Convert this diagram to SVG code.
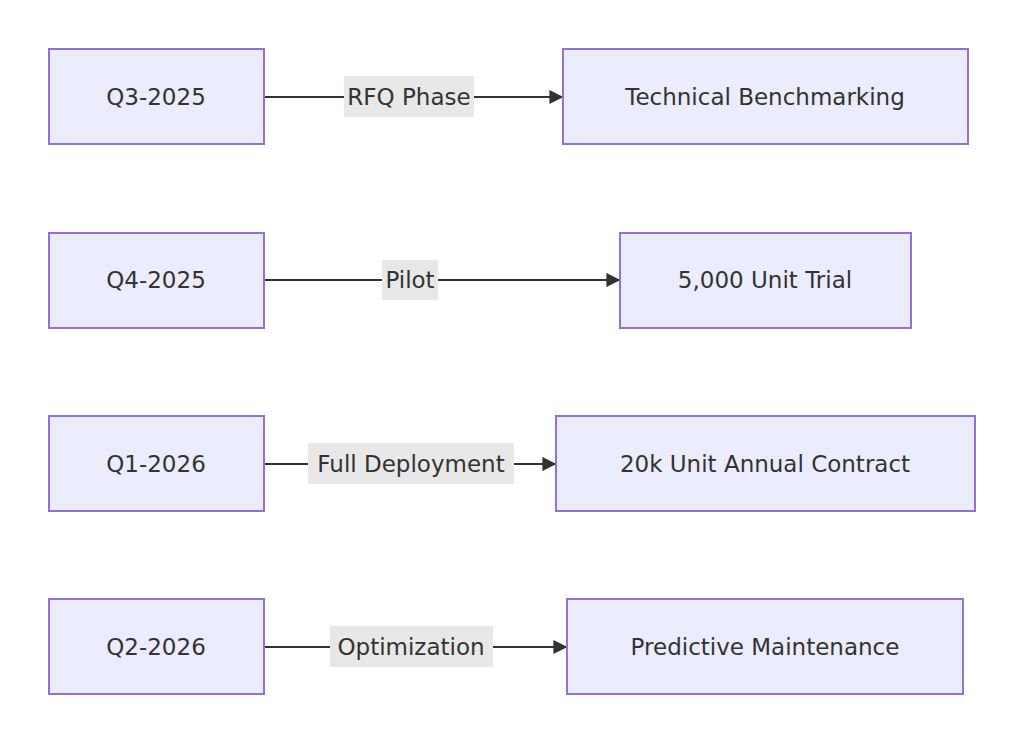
<svg xmlns="http://www.w3.org/2000/svg" width="1024" height="744" viewBox="0 0 1024 744">
<style>
.n{fill:#ECECFF;stroke:#9370DB;stroke-width:2}
.t{font-family:"DejaVu Sans",sans-serif;font-size:23px;fill:#333;text-anchor:middle;dominant-baseline:central}
.lb{fill:#E8E8E8}
.e{stroke:#333;stroke-width:2;fill:none}
</style>
<defs><marker id="a" viewBox="0 0 10 10" refX="9" refY="5" markerWidth="7" markerHeight="7" orient="auto"><path d="M0,0L10,5L0,10z" fill="#333"/></marker></defs>
<rect width="1024" height="744" fill="#fff"/>
<g id="edges">
<path class="e" d="M264,97H562" marker-end="url(#a)"/>
<path class="e" d="M264,280H619" marker-end="url(#a)"/>
<path class="e" d="M264,464H555" marker-end="url(#a)"/>
<path class="e" d="M264,647H566" marker-end="url(#a)"/>
<rect class="lb" x="344" y="76" width="130" height="41"/><text class="t" x="409" y="97">RFQ Phase</text>
<rect class="lb" x="382" y="260" width="56" height="40"/><text class="t" x="410" y="280">Pilot</text>
<rect class="lb" x="308" y="443" width="206" height="41"/><text class="t" x="411" y="464">Full Deployment</text>
<rect class="lb" x="330" y="626" width="163" height="41"/><text class="t" x="411" y="647">Optimization</text>
</g>
<g id="q3"><rect class="n" x="49" y="49" width="215" height="95"/><text class="t" x="156" y="97">Q3-2025</text></g>
<g id="tb"><rect class="n" x="563" y="49" width="405" height="95"/><text class="t" x="765" y="97">Technical Benchmarking</text></g>
<g id="q4"><rect class="n" x="49" y="233" width="215" height="95"/><text class="t" x="156" y="280">Q4-2025</text></g>
<g id="ut"><rect class="n" x="620" y="233" width="291" height="95"/><text class="t" x="765" y="280">5,000 Unit Trial</text></g>
<g id="q1"><rect class="n" x="49" y="416" width="215" height="95"/><text class="t" x="156" y="464">Q1-2026</text></g>
<g id="ac"><rect class="n" x="556" y="416" width="419" height="95"/><text class="t" x="765" y="464">20k Unit Annual Contract</text></g>
<g id="q2"><rect class="n" x="49" y="599" width="215" height="95"/><text class="t" x="156" y="647">Q2-2026</text></g>
<g id="pm"><rect class="n" x="567" y="599" width="396" height="95"/><text class="t" x="765" y="647">Predictive Maintenance</text></g>
</svg>
